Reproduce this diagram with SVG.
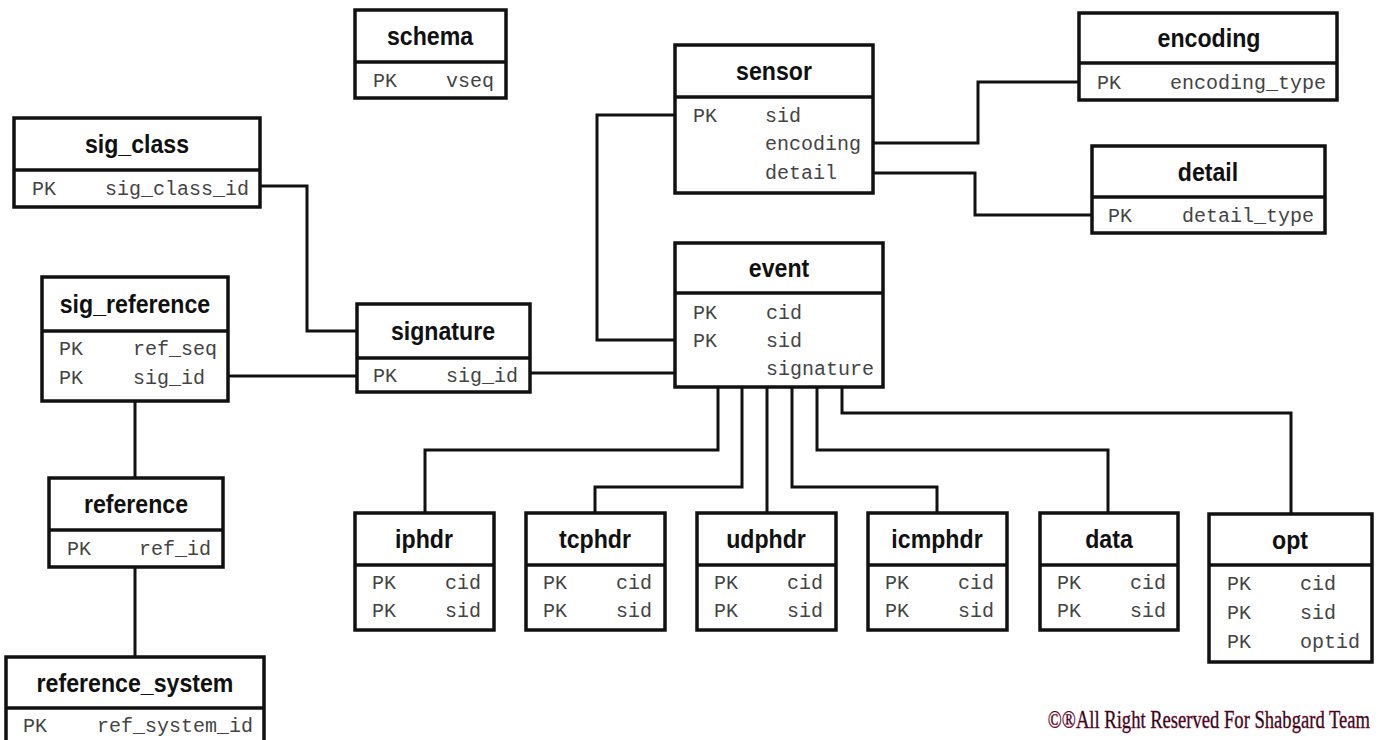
<svg xmlns="http://www.w3.org/2000/svg" width="1379" height="740" viewBox="0 0 1379 740">
<style>
.box{fill:#fff;stroke:#111;stroke-width:3.5}
.div{stroke:#111;stroke-width:3.5}
.h{font-family:"Liberation Sans",Arial,sans-serif;font-weight:bold;font-size:26px;fill:#111;text-anchor:middle}
.t{font-family:"Liberation Mono","Courier New",monospace;font-size:20px;fill:#444}
.c{fill:none;stroke:#111;stroke-width:3}
.wm{font-family:"Liberation Serif",serif;font-size:26px;fill:#111;stroke:#a0003c;stroke-width:0.4;text-anchor:end}
</style>
<rect width="1379" height="740" fill="#fff"/>
<g id="connectors">
<path class="c" d="M260,186 H307 V331 H357"/>
<path class="c" d="M228,376 H357"/>
<path class="c" d="M135,401 V478"/>
<path class="c" d="M135,567 V657"/>
<path class="c" d="M530,373 H675"/>
<path class="c" d="M675,115 H597 V340 H675"/>
<path class="c" d="M873,143 H978 V82 H1079"/>
<path class="c" d="M873,173 H975 V215 H1092"/>
<path class="c" d="M718,387 V450 H425 V513"/>
<path class="c" d="M742,387 V487 H595 V513"/>
<path class="c" d="M767,387 V513"/>
<path class="c" d="M792,387 V487 H937 V513"/>
<path class="c" d="M817,387 V450 H1108 V513"/>
<path class="c" d="M842,387 V413 H1291 V514"/>
</g>
<g id="schema">
<rect class="box" x="355" y="10" width="151" height="88"/><line class="div" x1="355" y1="62" x2="506" y2="62"/>
<text class="h" transform="translate(430,45) scale(0.89,1)">schema</text>
<text class="t" x="373" y="87">PK</text><text class="t" x="446" y="87">vseq</text>
</g>
<g id="sig_class">
<rect class="box" x="14" y="118" width="246" height="89"/><line class="div" x1="14" y1="170" x2="260" y2="170"/>
<text class="h" transform="translate(137,153) scale(0.89,1)">sig_class</text>
<text class="t" x="32" y="195">PK</text><text class="t" x="105" y="195">sig_class_id</text>
</g>
<g id="sig_reference">
<rect class="box" x="42" y="277" width="186" height="124"/><line class="div" x1="42" y1="331" x2="228" y2="331"/>
<text class="h" transform="translate(135,313) scale(0.89,1)">sig_reference</text>
<text class="t" x="59" y="355">PK</text><text class="t" x="133" y="355">ref_seq</text>
<text class="t" x="59" y="384">PK</text><text class="t" x="133" y="384">sig_id</text>
</g>
<g id="signature">
<rect class="box" x="357" y="304" width="173" height="88"/><line class="div" x1="357" y1="358" x2="530" y2="358"/>
<text class="h" transform="translate(443,340) scale(0.89,1)">signature</text>
<text class="t" x="373" y="382">PK</text><text class="t" x="446" y="382">sig_id</text>
</g>
<g id="reference">
<rect class="box" x="49" y="478" width="174" height="89"/><line class="div" x1="49" y1="530" x2="223" y2="530"/>
<text class="h" transform="translate(136,513) scale(0.89,1)">reference</text>
<text class="t" x="67" y="555">PK</text><text class="t" x="139" y="555">ref_id</text>
</g>
<g id="reference_system">
<rect class="box" x="6" y="657" width="258" height="95"/><line class="div" x1="6" y1="708" x2="264" y2="708"/>
<text class="h" transform="translate(135,692) scale(0.89,1)">reference_system</text>
<text class="t" x="23" y="732">PK</text><text class="t" x="97" y="732">ref_system_id</text>
</g>
<g id="sensor">
<rect class="box" x="675" y="45" width="198" height="148"/><line class="div" x1="675" y1="97" x2="873" y2="97"/>
<text class="h" transform="translate(774,80) scale(0.89,1)">sensor</text>
<text class="t" x="693" y="122">PK</text><text class="t" x="765" y="122">sid</text>
<text class="t" x="765" y="150">encoding</text>
<text class="t" x="765" y="179">detail</text>
</g>
<g id="encoding">
<rect class="box" x="1079" y="13" width="258" height="87"/><line class="div" x1="1079" y1="63" x2="1337" y2="63"/>
<text class="h" transform="translate(1209,47) scale(0.89,1)">encoding</text>
<text class="t" x="1097" y="89">PK</text><text class="t" x="1170" y="89">encoding_type</text>
</g>
<g id="detail">
<rect class="box" x="1092" y="146" width="233" height="87"/><line class="div" x1="1092" y1="197" x2="1325" y2="197"/>
<text class="h" transform="translate(1208,181) scale(0.89,1)">detail</text>
<text class="t" x="1108" y="222">PK</text><text class="t" x="1182" y="222">detail_type</text>
</g>
<g id="event">
<rect class="box" x="675" y="243" width="208" height="144"/><line class="div" x1="675" y1="293" x2="883" y2="293"/>
<text class="h" transform="translate(779,277) scale(0.89,1)">event</text>
<text class="t" x="693" y="319">PK</text><text class="t" x="766" y="319">cid</text>
<text class="t" x="693" y="347">PK</text><text class="t" x="766" y="347">sid</text>
<text class="t" x="766" y="375">signature</text>
</g>
<g id="iphdr">
<rect class="box" x="355" y="513" width="139" height="117"/><line class="div" x1="355" y1="565" x2="494" y2="565"/>
<text class="h" transform="translate(424,548) scale(0.89,1)">iphdr</text>
<text class="t" x="372" y="589">PK</text><text class="t" x="445" y="589">cid</text>
<text class="t" x="372" y="617">PK</text><text class="t" x="445" y="617">sid</text>
</g>
<g id="tcphdr">
<rect class="box" x="526" y="513" width="139" height="117"/><line class="div" x1="526" y1="565" x2="665" y2="565"/>
<text class="h" transform="translate(595,548) scale(0.89,1)">tcphdr</text>
<text class="t" x="543" y="589">PK</text><text class="t" x="616" y="589">cid</text>
<text class="t" x="543" y="617">PK</text><text class="t" x="616" y="617">sid</text>
</g>
<g id="udphdr">
<rect class="box" x="697" y="513" width="139" height="117"/><line class="div" x1="697" y1="565" x2="836" y2="565"/>
<text class="h" transform="translate(766,548) scale(0.89,1)">udphdr</text>
<text class="t" x="714" y="589">PK</text><text class="t" x="787" y="589">cid</text>
<text class="t" x="714" y="617">PK</text><text class="t" x="787" y="617">sid</text>
</g>
<g id="icmphdr">
<rect class="box" x="868" y="513" width="139" height="117"/><line class="div" x1="868" y1="565" x2="1007" y2="565"/>
<text class="h" transform="translate(937,548) scale(0.89,1)">icmphdr</text>
<text class="t" x="885" y="589">PK</text><text class="t" x="958" y="589">cid</text>
<text class="t" x="885" y="617">PK</text><text class="t" x="958" y="617">sid</text>
</g>
<g id="data">
<rect class="box" x="1040" y="513" width="138" height="117"/><line class="div" x1="1040" y1="565" x2="1178" y2="565"/>
<text class="h" transform="translate(1109,548) scale(0.89,1)">data</text>
<text class="t" x="1057" y="589">PK</text><text class="t" x="1130" y="589">cid</text>
<text class="t" x="1057" y="617">PK</text><text class="t" x="1130" y="617">sid</text>
</g>
<g id="opt">
<rect class="box" x="1209" y="514" width="163" height="148"/><line class="div" x1="1209" y1="565" x2="1372" y2="565"/>
<text class="h" transform="translate(1290,549) scale(0.89,1)">opt</text>
<text class="t" x="1227" y="590">PK</text><text class="t" x="1300" y="590">cid</text>
<text class="t" x="1227" y="619">PK</text><text class="t" x="1300" y="619">sid</text>
<text class="t" x="1227" y="648">PK</text><text class="t" x="1300" y="648">optid</text>
</g>
<text class="wm" transform="translate(1370,728) scale(0.715,1)">©®All Right Reserved For Shabgard Team</text>
</svg>
